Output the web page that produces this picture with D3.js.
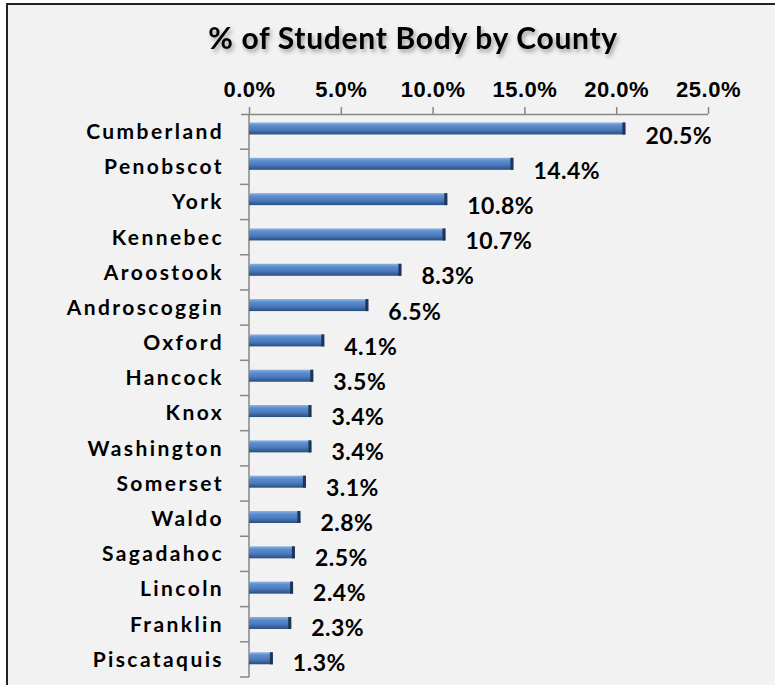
<!DOCTYPE html>
<html>
<head>
<meta charset="UTF-8">
<title>% of Student Body by County</title>
<style>
  body { margin: 0; background: #fff; }
  svg { display: block; font-family: Lato, "Open Sans", sans-serif; }
  .axis path, .axis line { stroke: #868686; stroke-width: 1.5px; }
</style>
</head>
<body>
<svg></svg>
<script src="https://d3js.org/d3.v7.min.js"></script>
<script>

const counties = ["Cumberland","Penobscot","York","Kennebec","Aroostook","Androscoggin","Oxford",
  "Hancock","Knox","Washington","Somerset","Waldo","Sagadahoc","Lincoln","Franklin","Piscataquis"];
const shares = [20.5,14.4,10.8,10.7,8.3,6.5,4.1,3.5,3.4,3.4,3.1,2.8,2.5,2.4,2.3,1.3];
const xTicks = [0,5,10,15,20,25];

let width = 775, height = 685;
let svg = d3.select("svg").attr("width", width).attr("height", height);

// chart frame (right and bottom sides run off the picture)
svg.append("rect")
  .attr("x", 7).attr("y", 4).attr("width", 790).attr("height", 700)
  .attr("fill", "#f2f2f2").attr("stroke", "#222").attr("stroke-width", 2);

let defs = svg.append("defs");
let grad = defs.append("linearGradient").attr("id", "barGrad")
  .attr("x1", 0).attr("y1", 0).attr("x2", 0).attr("y2", 1);
grad.append("stop").attr("offset", "0%").attr("stop-color", "#8fb2e0");
grad.append("stop").attr("offset", "25%").attr("stop-color", "#5a8dd0");
grad.append("stop").attr("offset", "60%").attr("stop-color", "#4a7bbd");
grad.append("stop").attr("offset", "100%").attr("stop-color", "#2a4d7e");

let shadow = defs.append("filter").attr("id", "shadow")
  .attr("x", "-10%").attr("y", "-30%").attr("width", "120%").attr("height", "170%");
shadow.append("feDropShadow").attr("dx", 2).attr("dy", 3).attr("stdDeviation", 2)
  .attr("flood-color", "#000").attr("flood-opacity", 0.35);

let x = d3.scaleLinear().domain([0, 25]).range([249, 708]);
let y = d3.scaleBand().domain(counties).range([114, 677]).paddingInner(0.66).paddingOuter(0.3).align(0.4);

svg.append("text")
  .attr("x", 413).attr("y", 49)
  .attr("text-anchor", "middle")
  .style("font-size", "30px").style("font-weight", "bold")
  .style("letter-spacing", "0.7px")
  .attr("filter", "url(#shadow)")
  .text("% of Student Body by County");

let xAxis = svg.append("g").attr("class", "axis")
  .attr("transform", "translate(0,114)")
  .call(d3.axisTop(x).tickValues(xTicks).tickSizeInner(7).tickSizeOuter(0).tickPadding(10)
    .tickFormat(d => d.toFixed(1) + "%"));
xAxis.selectAll("text").style("font-size", "22px").style("font-weight", "bold")
  .style("letter-spacing", "0.5px").attr("fill", "#000");
xAxis.select(".domain").attr("d", "M241,0.5H708");

let yBand = d3.scaleBand().domain(counties).range([114, 677]);
let yAxis = svg.append("g").attr("class", "axis")
  .attr("transform", "translate(249,0)");
yAxis.append("line").attr("x1", 0).attr("x2", 0).attr("y1", 114).attr("y2", 677);
yAxis.selectAll("line.tk")
  .data(counties.map(c => yBand(c) + yBand.bandwidth()))
  .enter().append("line").attr("class", "tk")
  .attr("x1", -9).attr("x2", 0).attr("y1", d => d).attr("y2", d => d);

svg.append("g").selectAll("text")
  .data(counties).enter().append("text")
  .attr("x", 224)
  .attr("y", d => yBand(d) + yBand.bandwidth() / 2)
  .attr("dy", "0.35em")
  .attr("text-anchor", "end")
  .style("font-size", "21px").style("font-weight", "bold")
  .style("letter-spacing", "2.4px")
  .text(d => d);

let bars = svg.append("g").selectAll("g")
  .data(counties).enter().append("g");
bars.append("rect")
  .attr("x", x(0))
  .attr("y", d => y(d))
  .attr("width", (d, i) => x(shares[i]) - x(0))
  .attr("height", y.bandwidth())
  .attr("fill", "url(#barGrad)");
bars.append("rect")
  .attr("x", (d, i) => x(shares[i]) - 3)
  .attr("y", d => y(d))
  .attr("width", 3)
  .attr("height", y.bandwidth())
  .attr("fill", "#1f3557");

svg.append("g").selectAll("text")
  .data(counties).enter().append("text")
  .attr("x", (d, i) => x(shares[i]) + 20)
  .attr("y", d => yBand(d) + yBand.bandwidth() / 2 + 4)
  .attr("dy", "0.35em")
  .style("font-size", "23px").style("font-weight", "bold")
  .style("letter-spacing", "0.5px")
  .text((d, i) => shares[i].toFixed(1) + "%");

</script>
</body>
</html>
